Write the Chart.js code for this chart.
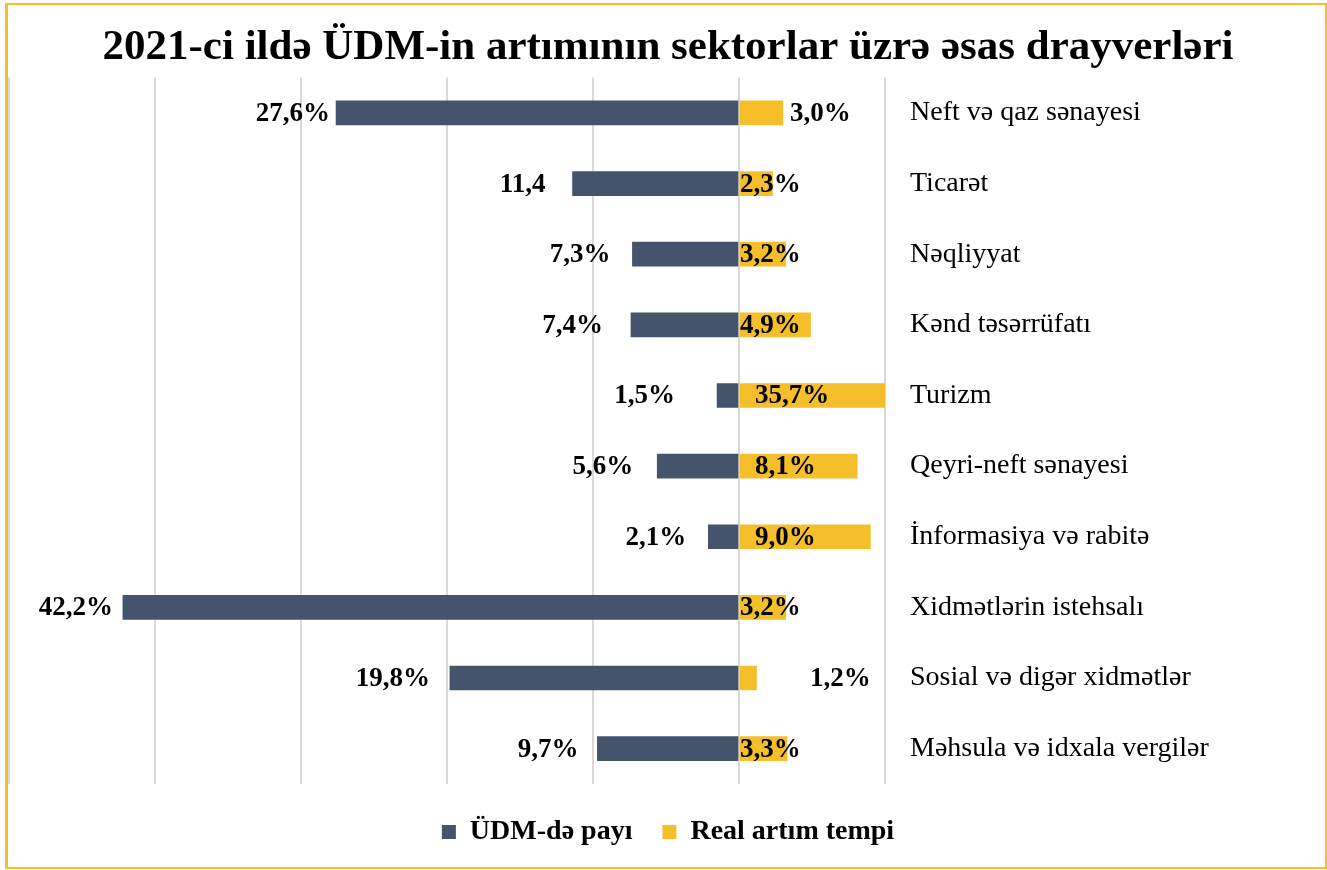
<!DOCTYPE html>
<html>
<head>
<meta charset="utf-8">
<script src="https://cdn.jsdelivr.net/npm/chart.js@4"></script>
<style>
  html, body { margin: 0; padding: 0; background: #fff; }
  canvas { display: block; }
</style>
</head>
<body>
<canvas id="chart" width="1327" height="870"></canvas>
<script>
// sektorlar
const categories = ['Neft və qaz sənayesi', 'Ticarət', 'Nəqliyyat', 'Kənd təsərrüfatı', 'Turizm',
    'Qeyri-neft sənayesi', 'İnformasiya və rabitə', 'Xidmətlərin istehsalı',
    'Sosial və digər xidmətlər', 'Məhsula və idxala vergilər'];
// ÜDM-də payı (%)
const shareValues = [27.6, 11.4, 7.3, 7.4, 1.5, 5.6, 2.1, 42.2, 19.8, 9.7];
const shareLabels = ['27,6%', '11,4', '7,3%', '7,4%', '1,5%', '5,6%', '2,1%', '42,2%', '19,8%', '9,7%'];
// Real artım tempi (%)
const growthValues = [3.0, 2.3, 3.2, 4.9, 35.7, 8.1, 9.0, 3.2, 1.2, 3.3];
const growthLabels = ['3,0%', '2,3%', '3,2%', '4,9%', '35,7%', '8,1%', '9,0%', '3,2%', '1,2%', '3,3%'];

// label nudges (px) - how the labels sat in the original
const leftGap = [6, 27, 22, 28, 42, 24, 22, 10, 20, 19];
const rightShift = [51, 1, 1, 1, 16, 16, 16, 1, 71, 1];

const GOLD = '#F5BF2C';
const DARK = '#44546A';
const FONT = '"Liberation Serif", "Times New Roman", serif';

const valueLabels = {
    id: 'valueLabels',
    afterDatasetsDraw(chart) {
        const ctx = chart.ctx;
        const x = chart.scales.x;
        const zero = x.getPixelForValue(0);
        ctx.save();
        ctx.font = 'bold 27px ' + FONT;
        ctx.fillStyle = '#000';
        ctx.textBaseline = 'middle';
        chart.getDatasetMeta(0).data.forEach((bar, i) => {
            ctx.textAlign = 'right';
            ctx.fillText(shareLabels[i], bar.x - leftGap[i], bar.y + 1);
        });
        chart.getDatasetMeta(1).data.forEach((bar, i) => {
            ctx.textAlign = 'left';
            ctx.fillText(growthLabels[i], zero + rightShift[i], bar.y + 1);
        });
        ctx.restore();
    }
};

const frame = {
    id: 'frame',
    afterDraw(chart) {
        const ctx = chart.ctx;
        ctx.save();
        ctx.strokeStyle = GOLD;
        ctx.lineWidth = 2;
        ctx.strokeRect(6, 4, 1320, 864);
        ctx.fillStyle = GOLD;
        ctx.fillRect(5, 4, 3, 864);
        ctx.restore();
    }
};

new Chart(document.getElementById('chart'), {
    type: 'bar',
    data: {
        labels: categories,
        datasets: [{
            label: 'ÜDM-də payı',
            data: shareValues.map(v => -v),
            backgroundColor: DARK,
            borderWidth: 0,
            barThickness: 24,
            clip: 0
        }, {
            label: 'Real artım tempi',
            data: growthValues,
            backgroundColor: GOLD,
            borderWidth: 0,
            barThickness: 24,
            clip: 0
        }]
    },
    options: {
        indexAxis: 'y',
        responsive: false,
        animation: false,
        layout: { padding: { left: 9, right: 0, top: 0, bottom: 14 } },
        scales: {
            x: {
                stacked: true,
                min: -50,
                max: 10,
                ticks: { display: false, stepSize: 10 },
                grid: { color: '#D9D9D9', lineWidth: 2, drawTicks: false },
                border: { display: false },
                afterFit(scale) { scale.height = 4; }
            },
            y: {
                stacked: true,
                position: 'right',
                grid: { display: false },
                border: { display: false },
                ticks: { color: '#000', padding: 17, font: { family: FONT, size: 28 } },
                afterFit(scale) { scale.width = 442; }
            }
        },
        plugins: {
            title: {
                display: true,
                text: '2021-ci ildə ÜDM-in artımının sektorlar üzrə əsas drayverləri',
                color: '#000',
                font: { family: FONT, size: 43, weight: 'bold' },
                padding: { top: 22, bottom: 4 }
            },
            legend: {
                position: 'bottom',
                labels: {
                    color: '#000',
                    font: { family: FONT, size: 28, weight: 'bold' },
                    boxWidth: 14,
                    boxHeight: 14,
                    padding: 30
                }
            },
            tooltip: { enabled: false }
        }
    },
    plugins: [valueLabels, frame]
});
</script>
</body>
</html>
